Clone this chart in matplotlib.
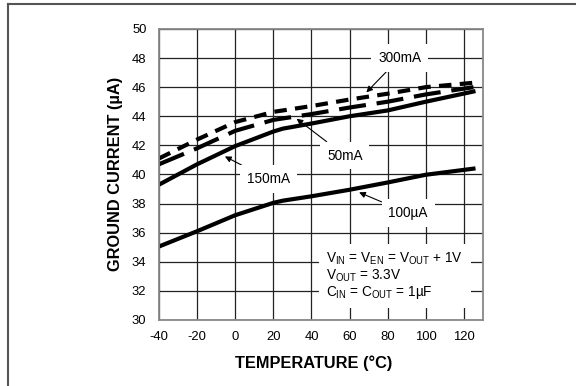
import matplotlib
matplotlib.use('Agg')
import matplotlib.pyplot as plt
from matplotlib.lines import Line2D

plt.rcParams['font.family'] = ['Liberation Sans', 'DejaVu Sans']
plt.rcParams['axes.unicode_minus'] = False

# temperature points (deg C)
temp = [-40, -20, 0, 20, 25, 40, 60, 80, 100, 125]

# ground current (uA) per load
i_300ma = [41.1, 42.4, 43.6, 44.3, 44.4, 44.7, 45.15, 45.55, 46.0, 46.3]
i_50ma = [40.7, 41.8, 43.0, 43.75, 43.85, 44.15, 44.6, 45.0, 45.5, 46.0]
i_150ma = [39.3, 40.7, 41.95, 42.95, 43.15, 43.5, 44.0, 44.4, 45.0, 45.7]
i_100ua = [35.05, 36.1, 37.2, 38.05, 38.2, 38.5, 38.95, 39.45, 39.98, 40.4]

xticks = [-40, -20, 0, 20, 40, 60, 80, 100, 120]
yticks = [30, 32, 34, 36, 38, 40, 42, 44, 46, 48, 50]

fig = plt.figure(figsize=(5.76, 3.86), dpi=100)
ax = fig.add_axes([0.276, 0.171, 0.5625, 0.754])

ax.plot(temp, i_300ma, color='black', lw=3, dashes=(3.0, 2.0), zorder=2)
ax.plot(temp, i_50ma, color='black', lw=3, dashes=(6.5, 2.6), zorder=2)
ax.plot(temp, i_150ma, color='black', lw=3, zorder=2)
ax.plot(temp, i_100ua, color='black', lw=3, zorder=2)

ax.set_xlim(-40, 130)
ax.set_ylim(30, 50)
ax.set_xticks(xticks)
ax.set_yticks(yticks)
ax.tick_params(length=0, labelsize=9.4, pad=8)
ax.tick_params(axis='y', pad=9)
ax.set_axisbelow(True)
ax.grid(True, color='#222222', lw=0.9)
for sp in ax.spines.values():
    sp.set_color('#888888')
    sp.set_linewidth(1.3)

arrow = dict(arrowstyle='-|>', color='black', lw=0.8, mutation_scale=9,
             shrinkA=0, shrinkB=0)
lbl_box = dict(boxstyle='square,pad=0.5', fc='white', ec='none')
ax.annotate('300mA', xy=(68.8, 45.64), xytext=(86.3, 48.0), fontsize=9.8,
            ha='center', va='center', bbox=lbl_box, arrowprops=arrow)
ax.annotate('50mA', xy=(32.2, 43.83), xytext=(57.5, 41.3), fontsize=9.8,
            ha='center', va='center', bbox=lbl_box, arrowprops=arrow)
ax.annotate('150mA', xy=(-5.4, 41.24), xytext=(17.3, 39.7), fontsize=9.8,
            ha='center', va='center', bbox=lbl_box, arrowprops=arrow)
ax.annotate('100\u00b5A', xy=(65, 38.77), xytext=(90.7, 37.35), fontsize=9.8,
            ha='center', va='center', bbox=lbl_box, arrowprops=arrow)

cond = ('V$_\\mathregular{IN}$ = V$_\\mathregular{EN}$ = V$_\\mathregular{OUT}$ + 1V\n'
        'V$_\\mathregular{OUT}$ = 3.3V\n'
        'C$_\\mathregular{IN}$ = C$_\\mathregular{OUT}$ = 1\u00b5F')
ax.text(47.8, 33.05, cond, fontsize=9.8, ha='left', va='center', linespacing=1.0,
        bbox=dict(boxstyle='square,pad=0.55', fc='white', ec='none'), zorder=3)

fig.text(0.2, 0.55, 'GROUND CURRENT (\u00b5A)', rotation=90, ha='center', va='center',
         fontsize=11.8, fontweight='bold')
fig.text(0.545, 0.06, 'TEMPERATURE (\u00b0C)', ha='center', va='center',
         fontsize=11.8, fontweight='bold')

# page frame, left and top edges only
fig.add_artist(Line2D([8 / 576, 8 / 576], [0, 1 - 4 / 386], transform=fig.transFigure,
                      color='#555555', lw=1.5))
fig.add_artist(Line2D([8 / 576, 1], [1 - 4 / 386, 1 - 4 / 386], transform=fig.transFigure,
                      color='#555555', lw=1.5))

fig.savefig('out.png', dpi=100)
